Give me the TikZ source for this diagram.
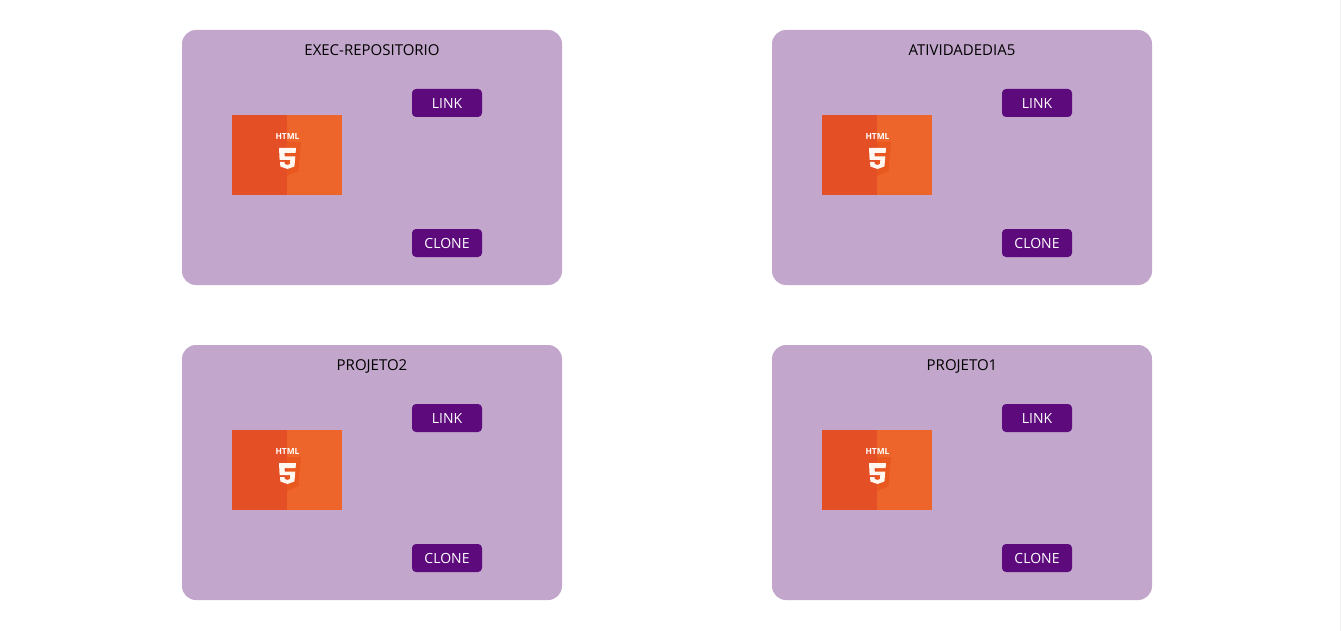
\documentclass[tikz,border=0pt]{standalone}
\usepackage{fontspec}
\setmainfont{Open Sans}
\definecolor{cardbg}{HTML}{C2A6CB}
\definecolor{btnbg}{HTML}{5C0A7C}
\definecolor{htmldark}{HTML}{E44F26}
\definecolor{htmllight}{HTML}{EE652B}
\definecolor{shieldright}{HTML}{E8581F}
\tikzset{
    card/.style={fill=cardbg, rounded corners=10.5},
    btn/.style={fill=btnbg, rounded corners=3, text=white, minimum width=52.5pt, minimum height=21pt, inner sep=0pt, text height=7.6pt, text depth=0pt, font=\fontsize{10.5pt}{12pt}\selectfont},
    cardtitle/.style={text=black, inner sep=0pt, text height=8.2pt, text depth=0pt, font=\fontsize{11.25pt}{13pt}\selectfont}
}
\begin{document}
\begin{tikzpicture}[x=0.75pt, y=-0.75pt]
    \useasboundingbox[fill=white] (0,0) rectangle (1341,631);
    \fill[black!6] (1340,0) rectangle (1341,631);

    \foreach \cx/\cy/\name/\title in {182/30/a/EXEC-REPOSITORIO, 772/30/b/ATIVIDADEDIA5, 182/345/c/PROJETO2, 772/345/d/PROJETO1} {
        \begin{scope}[shift={(\cx,\cy)}]
            \fill[card] (0,0) rectangle (380,255);
            \node[cardtitle] (title\name) at (190,20) {\title};

            % Imagem do logo
            \fill[htmldark] (50,85) rectangle (105,165);
            \fill[htmllight] (105,85) rectangle (160,165);
            \fill[shieldright] (105,112) -- (119,112) -- (116.5,141) -- (105,146) -- cycle;
            \node[text=white, inner sep=0pt, font=\fontsize{6.3pt}{7pt}\selectfont\bfseries] (html\name) at (105.5,106.5) {HTML};
            \fill[white!94!orange] (97,118) -- (114,118) -- (113.6,123) -- (102.5,123) -- (102.8,126.5) -- (113.3,126.5) -- (112.4,136.5) -- (105.5,139) -- (98.4,136.5) -- (98,132) -- (102.5,132) -- (102.8,134) -- (105.5,135) -- (108,134) -- (108.3,130) -- (97.6,130) -- cycle;

            \node[btn] (link\name) at (265,73) {LINK};
            \node[btn] (clone\name) at (265,213) {CLONE};
        \end{scope}
    }
\end{tikzpicture}
\end{document}
